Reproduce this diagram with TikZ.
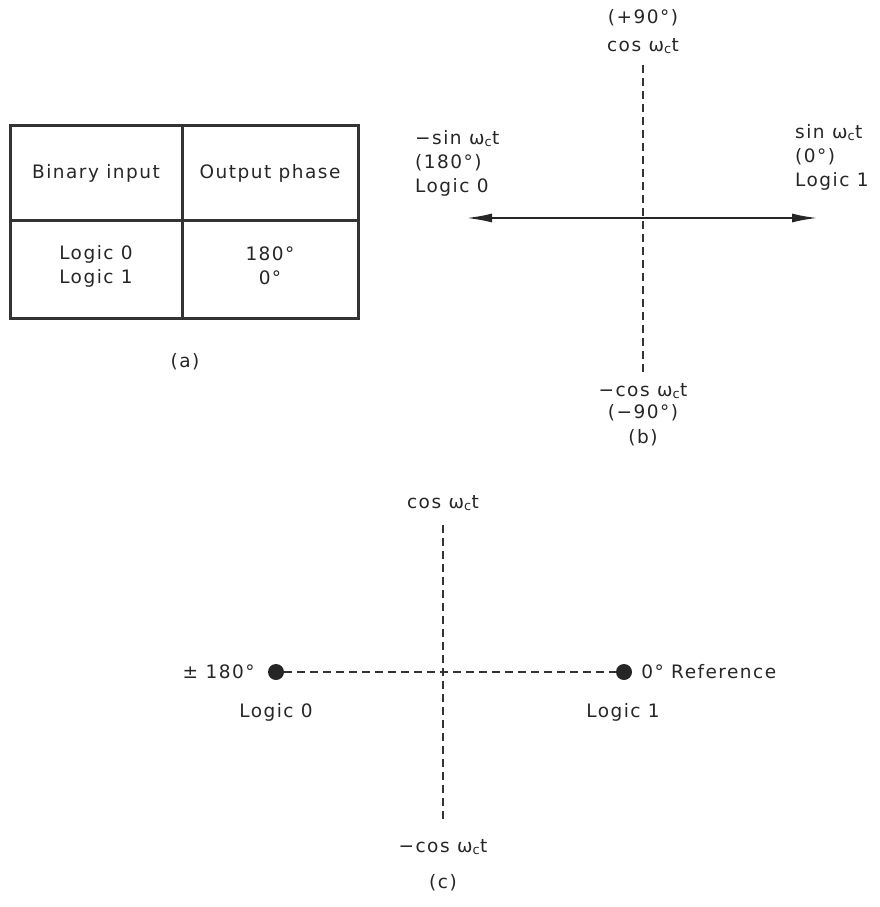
\documentclass[tikz,border=0pt]{standalone}
\usepackage{fontspec}
\setmainfont{DejaVu Sans}[LetterSpace=8]
\usetikzlibrary{arrows.meta,positioning}

\newcommand{\wct}{ω\textsubscript{c}t}

\begin{document}
\begin{tikzpicture}[
    x=1pt,
    y=-1pt,
    lbl/.style={font=\fontsize{18.5}{24}\selectfont, text=black!85, inner sep=1pt},
    tline/.style={line width=3pt, black!80},
    axis/.style={dash pattern=on 8pt off 5pt, line width=1.5pt, black!80},
    dot/.style={circle, fill=black!85, inner sep=0pt, minimum size=16pt}
]
\useasboundingbox (0,0) rectangle (879,907);

% (a) truth table
\draw[tline] (10,125) rectangle (358,318);
\draw[tline] (182,125) -- (182,318);
\draw[tline] (10,220) -- (358,220);
\node[lbl] (hin)  at (96,173)  {Binary input};
\node[lbl] (hout) at (270,173) {Output phase};
\node[lbl] (in0)  at (96,254)  {Logic 0};
\node[lbl] (in1)  at (96,278)  {Logic 1};
\node[lbl] (ph0)  at (270,254) {180°};
\node[lbl] (ph1)  at (270,278) {0°};
\node[lbl] (capa) at (185,362) {(a)};

% (b) phasor diagram
\coordinate (bN) at (643,65);
\coordinate (bS) at (643,375);
\coordinate (bW) at (466,218);
\coordinate (bE) at (818,218);
\draw[axis] (bN) -- (bS);
\draw[line width=2.2pt, black!85, {Latex[length=26pt,width=9pt]}-{Latex[length=26pt,width=9pt]}] (bW) -- (bE);
\node[lbl] (bplus) at (643,18) {(+90°)};
\node[lbl] (bcos)  at (643,46) {cos \wct};
\node[lbl, anchor=west, align=left] (bleft)  at (414,163) {−sin \wct\\(180°)\\Logic 0};
\node[lbl, anchor=west, align=left] (bright) at (794,157) {sin \wct\\(0°)\\Logic 1};
\node[lbl] (bmcos)  at (643,391) {−cos \wct};
\node[lbl] (bminus) at (643,413) {(−90°)};
\node[lbl] (capb)   at (643,438) {(b)};

% (c) constellation
\coordinate (cN) at (443,525);
\coordinate (cS) at (443,823);
\draw[axis] (cN) -- (cS);
\node[dot] (l0) at (276,672) {};
\node[dot] (l1) at (624,672) {};
\draw[axis] (l0) -- (l1);
\node[lbl] (ccos)  at (443,503) {cos \wct};
\node[lbl, left=12pt of l0]  (c180) {± 180°};
\node[lbl, right=8pt of l1] (cref) {0° Reference};
\node[lbl] (clog0) at (276,712) {Logic 0};
\node[lbl] (clog1) at (623,712) {Logic 1};
\node[lbl] (cmcos) at (443,847) {−cos \wct};
\node[lbl] (capc)  at (443,883) {(c)};
\end{tikzpicture}
\end{document}
